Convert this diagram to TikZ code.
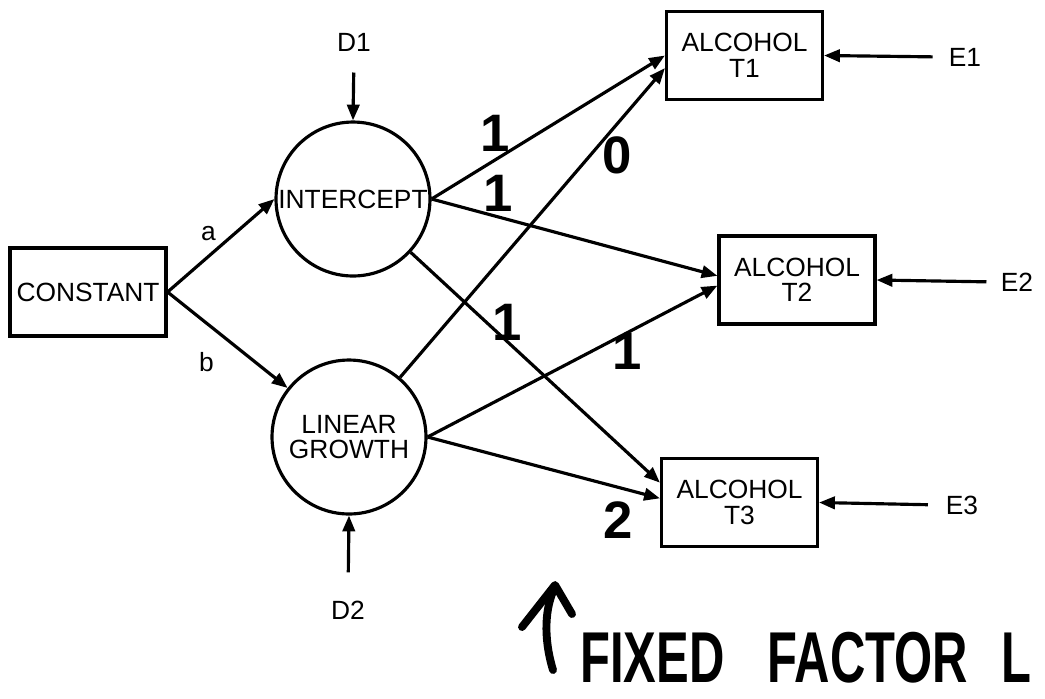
\documentclass[tikz,border=0pt]{standalone}
\usepackage{fontspec}
\setmainfont{Liberation Sans}
\usetikzlibrary{arrows.meta,positioning,calc}

\tikzset{
  obs/.style={draw, line width=1.8pt, minimum width=3.12cm, minimum height=1.76cm,
              inner sep=0pt, align=center, font=\fontsize{15}{14.5}\selectfont},
  lat/.style={draw, circle, line width=1.8pt, minimum size=3.08cm,
              inner sep=0pt, align=center, font=\fontsize{15}{14.5}\selectfont},
  lbl/.style={font=\fontsize{15}{14.5}\selectfont, inner sep=2pt},
  hand/.style={font=\fontsize{30}{30}\selectfont\bfseries, inner sep=0pt},
  arr/.style={line width=1.8pt, -{Triangle[length=9pt,width=7pt]}}
}

\begin{document}
\begin{tikzpicture}[x=0.02cm, y=-0.02cm]
  \useasboundingbox (0,0) rectangle (1045,698);
  \fill[white] (0,0) rectangle (1045,698);
  \clip (0,0) rectangle (1045,698);

  % model
  \node[obs] (const) at (88,292) {CONSTANT};
  \node[lat] (icpt) at (353,199) {INTERCEPT};
  \node[lat] (lin) at (349,437) {LINEAR\\GROWTH};
  \node[obs] (t1) at (744.5,55.5) {ALCOHOL\\T1};
  \node[obs] (t2) at (797,280) {ALCOHOL\\T2};
  \node[obs] (t3) at (739.5,502.5) {ALCOHOL\\T3};

  % disturbances and errors
  \node[lbl] (d1) at (354,42) {D1};
  \node[lbl] (d2) at (348,610) {D2};
  \node[lbl] (e1) at (965,57) {E1};
  \node[lbl] (e2) at (1017,282) {E2};
  \node[lbl] (e3) at (962,505) {E3};

  \draw[arr] (const.east) -- node[lbl, above left=0pt] (la) {a} (icpt.west);
  \draw[arr] (const.east) -- node[lbl, below left=4pt and 5pt] (lb) {b} (lin);

  \draw[arr, shorten <=10pt] (d1.south) -- (icpt.north);
  \draw[arr, shorten <=14pt] (d2.north) -- (lin.south);
  \draw[arr, shorten <=7pt] (e1.west) -- (t1.east);
  \draw[arr, shorten <=6pt] (e2.west) -- (t2.east);
  \draw[arr, shorten <=8pt] (e3.west) -- (t3.east);

  \draw[arr] (icpt.east) -- (t1.west);
  \draw[arr] (icpt.east) -- (t2.177);
  \draw[arr] (icpt) -- (t3.166);
  \draw[arr] (lin) -- (t1.189);
  \draw[arr] (lin.east) -- (t2.184);
  \draw[arr] (lin.east) -- (t3.177);

  % handwritten loadings
  \node[hand] (w1) at (495,133) {1};
  \node[hand] (w2) at (498,193) {1};
  \node[hand] (w3) at (617,155) {0};
  \node[hand] (w4) at (507,322) {1};
  \node[hand] (w5) at (627,351) {1};
  \node[hand] (w6) at (618,520) {2};

  % note
  \draw[line width=4.5pt, line cap=round, line join=round]
    (553,670) .. controls (543,637) and (545,607) .. (555,587);
  \draw[line width=4.5pt, line cap=round, line join=round]
    (522,627) -- (555,585) -- (572,614);
  \node[anchor=base west, inner sep=0pt, font=\fontsize{41}{41}\selectfont\bfseries]
    (note) at (580,682) {\scalebox{0.68}[1]{FIXED\hspace{36pt}FACTOR\hspace{28pt}L}};
\end{tikzpicture}
\end{document}
